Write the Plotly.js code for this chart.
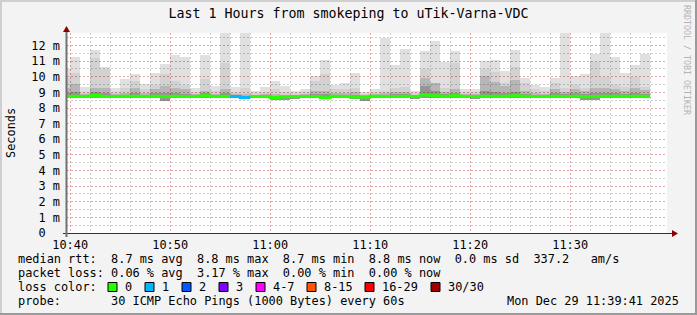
<!DOCTYPE html>
<html><head><meta charset="utf-8">
<script src="https://cdn.plot.ly/plotly-3.0.1.min.js"></script>
<style>html,body{margin:0;padding:0;background:#f3f3f3;}#chart{width:697px;height:315px;}</style>
</head><body><div id="chart"></div>
<script>
// ---- data (one value per minute, 10:39 .. 11:38) ----
const firstMinute = '10:39';
const rttMax = [10.5,11.26,9.32,11.70,10.6,9.26,9.85,10.17,9.53,10.25,10.8,11.37,11.25,9.3,11.37,9.4,13.5,9.37,13.2,9.12,9.32,9.75,9.4,9.08,9.24,10.02,11.06,9.47,9.6,10.23,9.0,9.21,12.45,10.77,11.8,9.1,11.68,12.27,10.97,11.62,9.24,9.21,11.03,11.1,10.37,11.69,9.93,9.45,9.34,9.93,13.4,10.07,10.17,11.45,13.1,11.25,10.21,10.75,11.47];
const rttP90 = [9.9,10.25,9.0,11.2,10.5,9.0,9.3,9.7,9.2,9.5,10.2,9.75,9.5,9.05,9.85,9.1,10.9,9.0,9.3,8.95,9.0,9.2,9.05,8.95,9.0,9.74,10.17,9.2,9.2,9.3,8.9,9.0,9.1,9.3,9.35,8.95,10.5,9.6,9.25,10.85,9.0,9.0,10.5,10.28,9.6,10.6,9.6,9.2,9.1,9.6,9.25,9.5,9.3,10.95,10.0,9.5,9.35,10.0,9.35];
const rttP75 = [9.3,9.53,8.9,9.3,9.3,8.9,8.95,9.3,8.95,9.2,9.4,9.3,9.2,8.9,9.1,8.9,9.2,8.9,8.9,8.85,8.9,8.9,8.85,8.85,8.9,9.1,9.1,8.95,8.95,9.0,8.85,8.9,8.95,9.0,9.0,8.85,9.9,9.6,9.0,9.2,8.9,8.9,10.05,9.64,9.4,9.8,9.1,8.95,8.9,9.2,9.05,9.2,9.1,9.3,9.3,9.2,9.1,9.3,9.15];
const rttP60 = [8.95,9.0,8.85,9.05,8.95,8.85,8.85,8.95,8.85,8.95,8.95,8.95,8.9,8.85,8.95,8.85,8.95,8.8,8.8,8.8,8.85,8.8,8.8,8.8,8.85,8.9,8.9,8.85,8.85,8.85,8.8,8.85,8.85,8.9,8.9,8.8,9.4,9.1,8.9,8.95,8.85,8.85,9.1,9.0,8.95,9.0,8.9,8.85,8.85,8.95,8.9,8.95,8.9,8.95,8.95,8.95,8.9,8.95,8.9];
const rttMin = [8.65,8.65,8.65,8.65,8.65,8.65,8.65,8.65,8.65,8.65,8.45,8.65,8.65,8.65,8.65,8.65,8.65,8.65,8.6,8.65,8.65,8.5,8.5,8.6,8.65,8.65,8.55,8.65,8.65,8.6,8.45,8.65,8.65,8.65,8.65,8.6,8.65,8.65,8.65,8.65,8.65,8.6,8.65,8.65,8.65,8.65,8.65,8.65,8.65,8.65,8.65,8.65,8.5,8.5,8.65,8.65,8.65,8.65,8.65];
const rttMedian = [8.74,8.76,8.74,8.8,8.74,8.74,8.76,8.76,8.74,8.76,8.74,8.76,8.74,8.74,8.78,8.74,8.76,8.74,8.67,8.74,8.74,8.68,8.72,8.74,8.74,8.74,8.66,8.76,8.74,8.7,8.7,8.76,8.74,8.74,8.76,8.74,8.84,8.78,8.76,8.78,8.74,8.74,8.76,8.76,8.76,8.78,8.76,8.74,8.74,8.76,8.74,8.76,8.72,8.74,8.76,8.76,8.76,8.76,8.76];
const lostPings = [0,0,0,0,0,0,0,0,0,0,0,0,0,0,0,0,0,1,1,0,0,0,0,0,0,0,0,0,0,0,0,0,0,0,0,0,0,0,0,0,0,0,0,0,0,0,0,0,0,0,0,0,0,0,0,0,0,0,0];
const yTickVals = [0,1,2,3,4,5,6,7,8,9,10,11,12];
const yTickText = ['0  ','1 m','2 m','3 m','4 m','5 m','6 m','7 m','8 m','9 m','10 m','11 m','12 m'];
const lossLabels = ['0','1','2','3','4-7','8-15','16-29','30/30'];
const lossUpper  = [0,1,2,3,7,15,29,30];
const lossColors = ['#26ff00','#00b8ff','#0059ff','#7e00ff','#ff00ff','#ff5500','#ff0000','#a10000'];
const titleText = 'Last 1 Hours from smokeping to uTik-Varna-VDC';
const legendRows = [
  'median rtt:  8.7 ms avg  8.8 ms max  8.7 ms min  8.8 ms now  0.0 ms sd  337.2   am/s',
  'packet loss: 0.06 % avg  3.17 % max  0.00 % min  0.00 % now',
  'loss color:',
  'probe:       30 ICMP Echo Pings (1000 Bytes) every 60s'
];
const stampText = 'Mon Dec 29 11:39:41 2025';
const rangeStart = '2025-12-29 10:39:41', rangeEnd = '2025-12-29 11:39:41';

// ---- helpers ----
const W=697,H=315,L=67,T=33,PW=600,PH=200;
const px = x => (x-L)/PW, py = y => (T+PH-y)/PH;
const nb = s => s.replace(/ /g,'\u00a0');
function stamp(sec){const h=Math.floor(sec/3600),m=Math.floor(sec%3600/60),s=sec%60;
  const p=n=>String(n).padStart(2,'0');return '2025-12-29 '+p(h)+':'+p(m)+':'+p(s);}
const [fh,fm]=firstMinute.split(':').map(Number);
const t0=fh*3600+fm*60;
const colStart = rttMax.map((_,i)=>stamp(t0+i*60));
const colEnd = rttMax.map((_,i)=>stamp(t0+i*60+60));
const colMid = rttMax.map((_,i)=>stamp(t0+i*60+30));

const traces=[];
function band(top,alpha){
  traces.push({type:'bar',x:colMid,base:rttMin,y:top.map((v,i)=>v-rttMin[i]),width:60000,
    marker:{color:'rgba(0,0,0,'+alpha+')',line:{width:0}},hoverinfo:'skip',showlegend:false});
}
band(rttMax,0.12);band(rttP90,0.06);band(rttP75,0.13);band(rttP60,0.18);

const cat = n => lossUpper.findIndex(u=>n<=u);
const lines = lossColors.map(()=>({x:[],y:[]}));
let i=0;
while(i<rttMedian.length){
  const c=cat(lostPings[i]);let j=i;
  const o=lines[c];
  while(j<rttMedian.length && cat(lostPings[j])===c){o.x.push(colStart[j]);o.y.push(rttMedian[j]);j++;}
  o.x.push(colEnd[j-1]);o.y.push(rttMedian[j-1]);o.x.push(null);o.y.push(null);
  i=j;
}
lines.forEach((o,c)=>{ if(o.x.length) traces.push({type:'scatter',mode:'lines',x:o.x,y:o.y,
  line:{color:lossColors[c],width:3,shape:'hv'},connectgaps:false,hoverinfo:'skip',showlegend:false});});

const FONT='DejaVu Sans Mono';
const fnt={family:FONT,size:11.9,color:'#000'};
const annotations=[];
legendRows.forEach((r,k)=>annotations.push({xref:'paper',yref:'paper',x:px(16),y:py(259+14*k),xanchor:'left',yanchor:'middle',
  text:nb(r),showarrow:false,font:fnt}));
annotations.push({xref:'paper',yref:'paper',x:px(681),y:py(301),xanchor:'right',yanchor:'middle',text:nb(stampText),showarrow:false,font:fnt});
annotations.push({xref:'paper',yref:'paper',x:px(11),y:py(133),xanchor:'center',yanchor:'middle',text:'Seconds',textangle:-90,showarrow:false,font:fnt});
annotations.push({xref:'paper',yref:'paper',x:px(687),y:py(60),xanchor:'center',yanchor:'middle',text:nb('RRDTOOL / TOBI OETIKER'),textangle:90,showarrow:false,font:{family:FONT,size:8.3,color:'#b4b4b4'}});

const swatchLeft=[108,145,182,219,256,307,365,431];
const shapes=[];
lossLabels.forEach((lab,k)=>{
  shapes.push({type:'rect',xref:'paper',yref:'paper',x0:px(swatchLeft[k]),x1:px(swatchLeft[k]+9),y0:py(282.5),y1:py(291.5),
    fillcolor:lossColors[k],line:{color:'#000',width:1}});
  annotations.push({xref:'paper',yref:'paper',x:px(swatchLeft[k]+15),y:py(287),xanchor:'left',yanchor:'middle',text:nb(lab),showarrow:false,font:fnt});
});
// axes with arrows
shapes.push({type:'line',xref:'paper',yref:'paper',x0:px(63),x1:px(673),y0:py(233.5),y1:py(233.5),line:{color:'#333',width:1}});
shapes.push({type:'line',xref:'paper',yref:'paper',x0:px(66.5),x1:px(66.5),y0:py(237),y1:py(30),line:{color:'#707070',width:2}});
shapes.push({type:'path',xref:'paper',yref:'paper',path:`M ${px(672)} ${py(230)} L ${px(678)} ${py(233.5)} L ${px(672)} ${py(237)} Z`,fillcolor:'#8b0000',line:{width:0}});
shapes.push({type:'path',xref:'paper',yref:'paper',path:`M ${px(63)} ${py(32)} L ${px(66.5)} ${py(26)} L ${px(70)} ${py(32)} Z`,fillcolor:'#8b0000',line:{width:0}});
// frame
shapes.push({type:'line',xref:'paper',yref:'paper',x0:px(0),x1:px(697),y0:py(1),y1:py(1),line:{color:'#cfcfcf',width:2}});
shapes.push({type:'line',xref:'paper',yref:'paper',x0:px(1),x1:px(1),y0:py(0),y1:py(315),line:{color:'#cfcfcf',width:2}});
shapes.push({type:'line',xref:'paper',yref:'paper',x0:px(0),x1:px(697),y0:py(314),y1:py(314),line:{color:'#9a9a9a',width:2}});
shapes.push({type:'line',xref:'paper',yref:'paper',x0:px(696),x1:px(696),y0:py(0),y1:py(315),line:{color:'#9a9a9a',width:2}});

const MAJ='#eaa8a8', MIN='#cfcfcf', DASH='2px,2px';
const layout={
  width:W,height:H,margin:{l:L,r:W-L-PW,t:T,b:H-T-PH,pad:0},
  paper_bgcolor:'#f3f3f3',plot_bgcolor:'#ffffff',barmode:'overlay',bargap:0,showlegend:false,
  font:fnt,
  title:{text:titleText,x:0.5,xref:'container',y:1-13/H,yref:'container',xanchor:'center',yanchor:'middle',font:{family:FONT,size:13.3,color:'#000'}},
  xaxis:{type:'date',range:[rangeStart,rangeEnd],tick0:'2025-12-29 10:40:00',dtick:600000,tickformat:'%H:%M',
    showgrid:true,gridcolor:MAJ,griddash:DASH,gridwidth:1,zeroline:false,showline:false,ticks:'',tickfont:fnt,ticklabelstandoff:3,
    minor:{tick0:'2025-12-29 10:40:00',dtick:120000,showgrid:true,gridcolor:MIN,griddash:DASH,gridwidth:1}},
  yaxis:{range:[0,12.8],tickvals:yTickVals,ticktext:yTickText.map(nb),showgrid:true,gridcolor:MAJ,griddash:DASH,gridwidth:1,
    zeroline:false,showline:false,ticks:'',tickfont:fnt,ticklabelstandoff:6,
    minor:{tick0:0,dtick:0.5,showgrid:true,gridcolor:MIN,griddash:DASH,gridwidth:1}},
  annotations,shapes
};
Plotly.newPlot('chart',traces,layout,{staticPlot:true,displayModeBar:false});
</script></body></html>
